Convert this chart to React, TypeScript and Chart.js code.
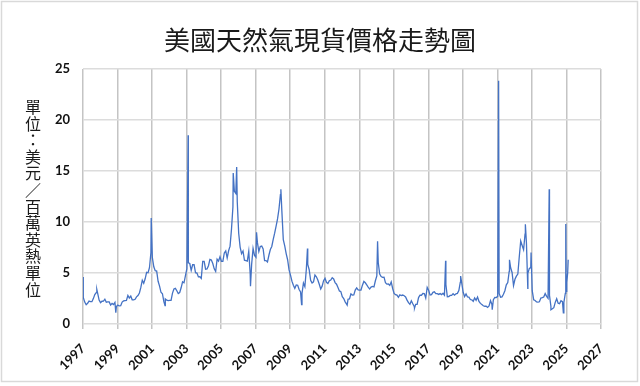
import React, { useEffect, useRef } from "react";
import { Chart, registerables } from "chart.js";

Chart.register(...registerables);

const TITLE = "美國天然氣現貨價格走勢圖";
const Y_TITLE = "單位：美元／百萬英熱單位";

const START_YEAR = 1997;

// Monthly spot prices (USD / MMBtu), Jan 1997 .. Jan 2025
const monthlyPrices = [
  // 1997
  2.6, 2.15, 1.89, 2.03, 2.25, 2.2, 2.19, 2.49, 2.88, 3.07, 3.01, 2.35,
  // 1998
  2.09, 2.23, 2.24, 2.43, 2.14, 2.17, 2.17, 1.85, 2.02, 1.91, 2.12, 1.72,
  // 1999
  1.85, 1.77, 1.79, 2.15, 2.26, 2.3, 2.31, 2.8, 2.55, 2.73, 2.37, 2.36,
  // 2000
  2.42, 2.66, 2.79, 3.04, 3.59, 4.29, 3.99, 4.43, 5.06, 5.02, 5.52, 7.0,
  // 2001
  6.5, 5.61, 5.23, 5.19, 4.19, 3.72, 3.11, 2.97, 2.19, 2.46, 2.34, 2.3,
  // 2002
  2.32, 2.32, 3.03, 3.43, 3.5, 3.26, 2.99, 3.09, 3.55, 4.13, 4.04, 4.74,
  // 2003
  5.43, 6.0, 5.93, 5.26, 5.81, 5.82, 5.03, 4.99, 4.62, 4.63, 4.47, 6.13,
  // 2004
  6.14, 5.37, 5.39, 5.71, 6.33, 6.27, 5.93, 5.41, 5.15, 6.35, 6.17, 6.58,
  // 2005
  6.15, 6.14, 6.96, 7.16, 6.47, 7.18, 7.63, 9.3, 11.5, 13.0, 12.8, 12.0,
  // 2006
  8.9, 7.54, 6.89, 7.16, 6.25, 6.21, 6.17, 7.14, 4.9, 5.85, 7.41, 6.73,
  // 2007
  6.55, 8.0, 7.11, 7.6, 7.64, 7.35, 6.22, 6.22, 6.08, 6.74, 7.3, 7.6,
  // 2008
  8.3, 8.9, 9.6, 10.3, 11.27, 12.69, 11.09, 8.26, 7.67, 6.9, 6.3, 5.3,
  // 2009
  4.8, 4.2, 3.8, 3.5, 3.83, 3.8, 3.38, 3.14, 2.99, 4.01, 3.66, 5.35,
  // 2010
  5.83, 5.32, 4.29, 4.03, 4.14, 4.8, 4.63, 4.32, 3.89, 3.43, 3.71, 4.25,
  // 2011
  4.49, 4.09, 3.97, 4.24, 4.31, 4.54, 4.42, 4.06, 3.9, 3.57, 3.24, 3.17,
  // 2012
  2.67, 2.5, 2.17, 1.95, 2.43, 2.46, 2.95, 2.84, 2.85, 3.32, 3.54, 3.34,
  // 2013
  3.33, 3.33, 3.81, 4.17, 4.04, 3.83, 3.62, 3.43, 3.62, 3.68, 3.64, 4.24,
  // 2014
  4.71, 6.0, 4.9, 4.66, 4.58, 4.59, 4.05, 3.91, 3.92, 3.78, 4.12, 3.48,
  // 2015
  2.99, 2.87, 2.83, 2.61, 2.85, 2.78, 2.84, 2.77, 2.66, 2.34, 2.09, 1.93,
  // 2016
  2.28, 1.99, 1.73, 1.92, 1.92, 2.59, 2.82, 2.82, 2.99, 2.98, 2.55, 3.59,
  // 2017
  3.3, 2.85, 2.88, 3.1, 3.15, 2.98, 2.98, 2.9, 2.98, 2.88, 3.01, 2.82,
  // 2018
  3.87, 2.67, 2.69, 2.8, 2.8, 2.97, 2.83, 2.96, 3.0, 3.28, 4.09, 4.04,
  // 2019
  3.11, 2.69, 2.95, 2.65, 2.64, 2.4, 2.37, 2.22, 2.56, 2.33, 2.65, 2.22,
  // 2020
  2.02, 1.91, 1.79, 1.74, 1.75, 1.63, 1.77, 2.3, 1.92, 2.39, 2.61, 2.59,
  // 2021
  2.71, 3.0, 2.62, 2.66, 2.91, 3.26, 3.84, 4.07, 5.16, 5.51, 5.05, 3.76,
  // 2022
  4.38, 4.69, 4.9, 6.6, 8.14, 7.7, 7.28, 8.81, 7.88, 5.0, 5.45, 5.53,
  // 2023
  3.27, 2.38, 2.31, 2.16, 2.15, 2.18, 2.55, 2.58, 2.64, 2.98, 2.71, 2.52,
  // 2024
  2.8, 1.72, 1.49, 1.6, 2.12, 2.48, 2.04, 1.99, 2.28, 2.2, 2.12, 3.0,
  // 2025
  4.1,
];

// Daily extremes (spikes / dips)
const spikeYears = [
  1997.0, 1997.8, 1998.9, 2000.95, 2001.75, 2003.09, 2005.7, 2005.9, 2006.7,
  2007.05, 2008.46, 2009.66, 2010.0, 2012.3, 2014.06, 2016.2, 2018.0, 2018.87,
  2020.7, 2021.07, 2021.7, 2022.62, 2022.76, 2022.95, 2024.0, 2024.1, 2024.82,
  2024.96, 2024.98, 2025.07, 2025.1,
];
const spikeValues = [
  4.6, 3.4, 1.1, 10.4, 1.8, 18.5, 14.8, 15.4, 3.7,
  9.0, 13.2, 1.9, 7.4, 1.85, 8.1, 1.55, 6.2, 4.7,
  1.4, 23.86, 6.3, 9.77, 3.5, 7.0, 13.2, 1.4, 1.1,
  9.8, 3.2, 5.0, 6.3,
];

const yearTicks = [1997, 1999, 2001, 2003, 2005, 2007, 2009, 2011, 2013, 2015, 2017, 2019, 2021, 2023, 2025, 2027];
const priceTicks = [0, 5, 10, 15, 20, 25];

function buildPoints() {
  const pts: { x: number; y: number }[] = [];
  monthlyPrices.forEach((v, i) => pts.push({ x: START_YEAR + (i + 0.2) / 12, y: v }));
  spikeYears.forEach((x, i) => pts.push({ x, y: spikeValues[i] }));
  pts.sort((a, b) => a.x - b.x);
  return pts;
}

const decorPlugin = {
  id: "decor",
  beforeDraw(chart: any) {
    const ctx = chart.ctx;
    ctx.save();
    ctx.fillStyle = "#ffffff";
    ctx.fillRect(0, 0, chart.width, chart.height);
    ctx.strokeStyle = "#d9d9d9";
    ctx.lineWidth = 1.5;
    ctx.strokeRect(1.5, 1.5, 636, 380);
    ctx.restore();
  },
  afterDraw(chart: any) {
    const ctx = chart.ctx;
    ctx.save();
    ctx.fillStyle = "#1a1a1a";
    ctx.textAlign = "center";
    ctx.textBaseline = "middle";
    ctx.font = '26px "Noto Sans CJK TC"';
    ctx.fillText(TITLE, 320, 40);
    ctx.font = '16px "Noto Sans CJK TC"';
    const chars = Array.from(Y_TITLE);
    chars.forEach((ch, i) => {
      ctx.fillText(ch, 33, 107 + i * 16.6);
    });
    ctx.restore();
  },
};

export default function App() {
  const ref = useRef<HTMLCanvasElement | null>(null);
  useEffect(() => {
    if (!ref.current) return;
    const tickFont = { family: "Lato", size: 13, weight: "bold" as const };
    const chart = new Chart(ref.current, {
      type: "line",
      data: {
        datasets: [
          {
            data: buildPoints(),
            borderColor: "#4472C4",
            borderWidth: 1.3,
            pointRadius: 0,
            tension: 0,
            fill: false,
          },
        ],
      },
      options: {
        animation: false,
        responsive: false,
        layout: { padding: { top: 69, right: 39, left: 0, bottom: 0 } },
        plugins: {
          legend: { display: false },
          title: { display: false },
          tooltip: { enabled: false },
        },
        scales: {
          x: {
            type: "linear",
            min: 1997,
            max: 2027,
            afterBuildTicks: (s: any) => {
              s.ticks = yearTicks.map((v) => ({ value: v }));
            },
            afterFit: (s: any) => {
              s.height = 62;
            },
            ticks: {
              minRotation: 45,
              maxRotation: 45,
              autoSkip: false,
              font: tickFont,
              color: "#111",
              padding: 12,
              callback: (v: any) => String(v),
            },
            grid: { color: "#c4c4c4", lineWidth: 1.5, tickLength: 5, drawTicks: true },
            border: { display: false },
          },
          y: {
            min: 0,
            max: 25,
            afterBuildTicks: (s: any) => {
              s.ticks = priceTicks.map((v) => ({ value: v }));
            },
            afterFit: (s: any) => {
              s.width = 83;
            },
            ticks: { font: tickFont, color: "#111", padding: 13, callback: (v: any) => String(v) },
            grid: { color: "#dcdcdc", lineWidth: 1.5, drawTicks: false },
            border: { display: false },
          },
        },
      },
      plugins: [decorPlugin],
    });
    return () => chart.destroy();
  }, []);
  return (
    <div style={{ position: "absolute", left: 0, top: 0, width: 640, height: 386 }}>
      <canvas ref={ref} width={640} height={386} />
    </div>
  );
}
